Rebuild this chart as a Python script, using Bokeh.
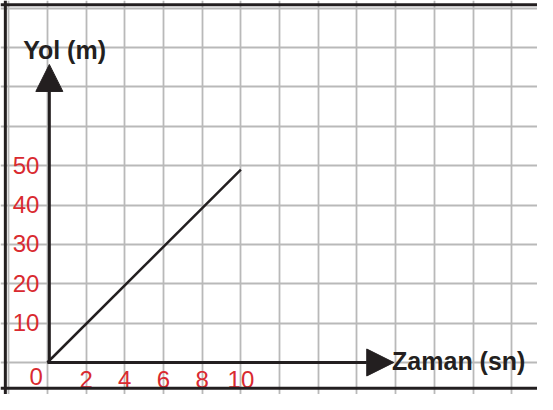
from bokeh.plotting import figure
from bokeh.models import Range1d, Grid, SingleIntervalTicker, Span, Arrow, NormalHead
from bokeh.core.properties import value
from bokeh.embed import file_html
from bokeh.resources import INLINE

# ---- data ----
time_s = [0, 10]
distance_m = [0, 49]
x_ticks = [2, 4, 6, 8, 10]
x_tick_labels = ["2", "4", "6", "8", "10"]
y_ticks = [10, 20, 30, 40, 50]
y_tick_labels = ["10", "20", "30", "40", "50"]
origin_label = ["0"]
x_title = ["Zaman (sn)"]
y_title = ["Yol (m)"]

# ---- style / layout ----
INK = "#231f20"
RED = "#d92a30"
GRID = "#b9b9b9"
FONT = "Liberation Sans"

W, H = 537, 394
SX, SY = W / 553, H / 410
PX_X = 19.925 * SX      # pixels per second
PX_Y = 4.097 * SY       # pixels per metre
X0_PX, Y0_PX = 48.3 * SX, 376.7 * SY   # origin inside the canvas
x_start = -X0_PX / PX_X
x_end = x_start + W / PX_X
y_top = Y0_PX / PX_Y
y_bottom = y_top - H / PX_Y

TICK_FS = 24
TITLE_FS = 25
BASE_FIX = -0.38     # baseline correction (em)

p = figure(width=W, height=H,
           x_range=Range1d(x_start, x_end), y_range=Range1d(y_bottom, y_top),
           output_backend="svg", toolbar_location=None, min_border=0,
           x_axis_type=None, y_axis_type=None, outline_line_color=None,
           background_fill_color="white", border_fill_color="white")

# graph-paper grid
p.add_layout(Grid(dimension=0, ticker=SingleIntervalTicker(interval=2),
                  grid_line_color=GRID, grid_line_width=1.8))
p.add_layout(Grid(dimension=1, ticker=SingleIntervalTicker(interval=10),
                  grid_line_color=GRID, grid_line_width=1.8))

# frame (left, top, bottom)
frame_left = (5 * SX - X0_PX) / PX_X
frame_top = (Y0_PX - 4.5 * SY) / PX_Y
frame_bottom = (Y0_PX - 403.5 * SY) / PX_Y
for loc, dim in [(frame_left, "height"), (frame_top, "width"), (frame_bottom, "width")]:
    p.add_layout(Span(location=loc, dimension=dim, line_color=INK, line_width=3))

# axes as arrows
Y_TIP = 75.7
X_TIP = 17.9
p.add_layout(Arrow(end=NormalHead(size=27, fill_color=INK, line_color=INK),
                   x_start=0.1, y_start=0, x_end=0.1, y_end=Y_TIP,
                   line_color=INK, line_width=3))
p.add_layout(Arrow(end=NormalHead(size=27, fill_color=INK, line_color=INK),
                   x_start=0, y_start=0, x_end=X_TIP, y_end=0,
                   line_color=INK, line_width=3))

# data line
p.line(time_s, distance_m, line_color=INK, line_width=2.5)

# tick labels
tick_style = dict(text_color=RED, text_font=value(FONT), text_font_size=f"{TICK_FS}px",
                  text_baseline="alphabetic")
tfix = BASE_FIX * TICK_FS
p.text(x=x_ticks, y=[0] * len(x_ticks), text=x_tick_labels,
       text_align="center", y_offset=26.8 * SY + tfix, **tick_style)
p.text(x=[0] * len(y_ticks), y=y_ticks, text=y_tick_labels,
       text_align="right", x_offset=-8.3 * SX, y_offset=9 * SY + tfix, **tick_style)
p.text(x=[0], y=[0], text=origin_label, text_align="center",
       x_offset=-11.6 * SX, y_offset=24 * SY + tfix, **tick_style)

# axis titles
title_style = dict(text_color=INK, text_font=value(FONT), text_font_size=f"{TITLE_FS}px",
                   text_font_style="bold", text_baseline="alphabetic", text_align="left")
hfix = BASE_FIX * TITLE_FS
p.text(x=[0], y=[76.9], text=y_title, x_offset=-25 * SX, y_offset=hfix, **title_style)
p.text(x=[X_TIP], y=[0], text=x_title, x_offset=-1.7 * SX, y_offset=8.3 * SY + hfix,
       **title_style)

open("out.html", "w").write(file_html(p, INLINE))
